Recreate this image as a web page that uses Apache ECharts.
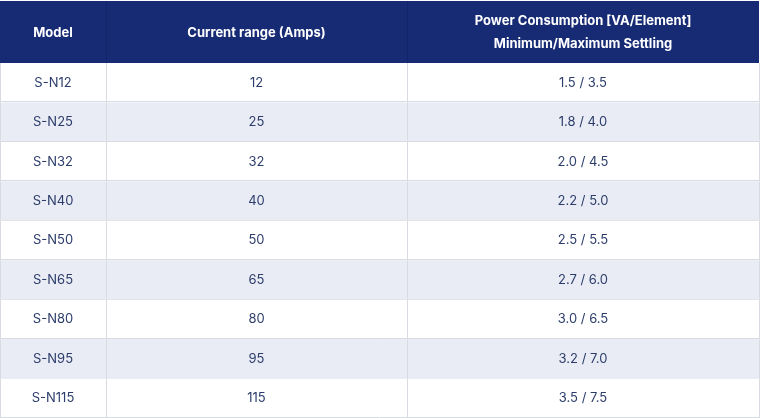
<!DOCTYPE html>
<html>
<head>
<meta charset="utf-8">
<script src="https://cdn.jsdelivr.net/npm/echarts@6/dist/echarts.min.js"></script>
<style>
  html, body { margin: 0; padding: 0; background: #ffffff; }
  #chart { width: 760px; height: 418px; }
</style>
</head>
<body>
<div id="chart"></div>
<script>
// ============ 表格数据 ============
const headers = ['Model', 'Current range (Amps)', 'Power Consumption [VA/Element]\nMinimum/Maximum Settling']
const models = ['S-N12', 'S-N25', 'S-N32', 'S-N40', 'S-N50', 'S-N65', 'S-N80', 'S-N95', 'S-N115']
const currents = [12, 25, 32, 40, 50, 65, 80, 95, 115]
const powerMin = ['1.5', '1.8', '2.0', '2.2', '2.5', '2.7', '3.0', '3.2', '3.5']
const powerMax = ['3.5', '4.0', '4.5', '5.0', '5.5', '6.0', '6.5', '7.0', '7.5']

// ============ 样式常量 ============
const COLORS = {
  header: '#172b75',
  headerLine: '#13246a',
  text: '#2c3d6b',
  stripe: '#e9ecf4',
  white: '#ffffff',
  border: '#d8dbe2'
}
const FONT = 'Inter, "Noto Sans", sans-serif'
// 列边界 (x 轴坐标)
const COL_EDGES = [0, 106, 407, 759]

const chart = echarts.init(document.getElementById('chart'))

// 单元格文字
function cellTexts(rowIdx) {
  return [models[rowIdx], String(currents[rowIdx]), powerMin[rowIdx] + ' / ' + powerMax[rowIdx]]
}

function renderHeader(params, api) {
  const top = api.coord([0, 1])[1]
  const bottom = api.coord([0, 0])[1]
  const children = [{
    type: 'rect',
    shape: { x: api.coord([COL_EDGES[0], 0])[0], y: top, width: api.coord([COL_EDGES[3], 0])[0] - api.coord([COL_EDGES[0], 0])[0], height: bottom - top },
    style: { fill: COLORS.header }
  }]
  for (let c = 1; c < 3; c++) {
    const x = api.coord([COL_EDGES[c], 0])[0]
    children.push({
      type: 'line',
      shape: { x1: x + 0.5, y1: top, x2: x + 0.5, y2: bottom },
      style: { stroke: COLORS.headerLine, lineWidth: 1 }
    })
  }
  headers.forEach((h, c) => {
    const cx = (api.coord([COL_EDGES[c], 0])[0] + api.coord([COL_EDGES[c + 1], 0])[0]) / 2
    children.push({
      type: 'text',
      style: {
        x: cx, y: (top + bottom) / 2 + 1, text: h,
        align: 'center', verticalAlign: 'middle',
        fill: '#ffffff', font: 'bold 13px ' + FONT, lineHeight: 23
      }
    })
  })
  return { type: 'group', children }
}

function renderRow(params, api) {
  const rowIdx = api.value(0)
  const yMid = api.coord([0, rowIdx])[1]
  const bandH = api.size([0, 1])[1]
  const top = yMid - bandH / 2
  const x0 = api.coord([COL_EDGES[0], 0])[0]
  const x3 = api.coord([COL_EDGES[3], 0])[0]
  const children = [{
    type: 'rect',
    shape: { x: x0, y: top, width: x3 - x0, height: bandH },
    style: { fill: rowIdx % 2 === 1 ? COLORS.stripe : COLORS.white }
  }]
  // 横线 (底边)
  children.push({
    type: 'line',
    shape: { x1: x0, y1: Math.round(top + bandH) - 0.5, x2: x3, y2: Math.round(top + bandH) - 0.5 },
    style: { stroke: COLORS.border, lineWidth: 1 }
  })
  // 竖线
  COL_EDGES.forEach((e, c) => {
    let x = api.coord([e, 0])[0]
    x = c === 0 ? x + 0.5 : Math.round(x) + 0.5
    children.push({
      type: 'line',
      shape: { x1: x, y1: top, x2: x, y2: top + bandH },
      style: { stroke: COLORS.border, lineWidth: 1 }
    })
  })
  cellTexts(rowIdx).forEach((t, c) => {
    const cx = (api.coord([COL_EDGES[c], 0])[0] + api.coord([COL_EDGES[c + 1], 0])[0]) / 2
    children.push({
      type: 'text',
      style: {
        x: cx, y: yMid, text: t,
        align: 'center', verticalAlign: 'middle',
        fill: COLORS.text, font: '13px ' + FONT
      }
    })
  })
  return { type: 'group', children }
}

chart.setOption({
  animation: false,
  grid: [
    { left: 0, right: 0, top: 1, height: 62 },
    { left: 0, right: 0, top: 63, bottom: 0 }
  ],
  xAxis: [
    { gridIndex: 0, type: 'value', min: 0, max: 760, show: false },
    { gridIndex: 1, type: 'value', min: 0, max: 760, show: false }
  ],
  yAxis: [
    { gridIndex: 0, type: 'value', min: 0, max: 1, show: false },
    { gridIndex: 1, type: 'category', data: models, inverse: true, show: false }
  ],
  series: [
    {
      type: 'custom',
      xAxisIndex: 0,
      yAxisIndex: 0,
      renderItem: renderHeader,
      data: [[0]],
      silent: true
    },
    {
      type: 'custom',
      xAxisIndex: 1,
      yAxisIndex: 1,
      renderItem: renderRow,
      data: models.map((m, i) => [i]),
      silent: true
    }
  ]
})
</script>
</body>
</html>
